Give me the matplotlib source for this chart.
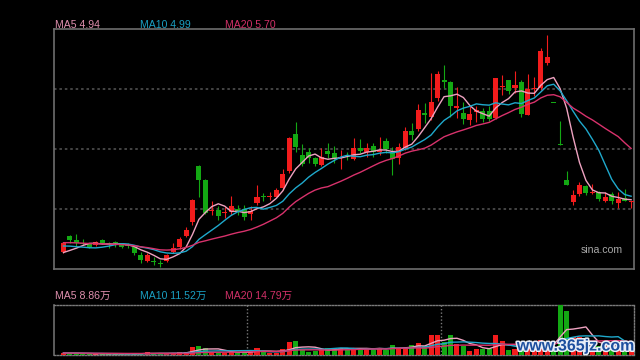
import numpy as np
import matplotlib
matplotlib.use("Agg")
import matplotlib.pyplot as plt
import matplotlib.patheffects as pe

# ---------------- data ----------------
opens = [4.20, 4.42, 4.37, 4.33, 4.31, 4.30, 4.37, 4.32, 4.34, 4.32,
         4.30, 4.27, 4.15, 4.07, 4.06, 4.04, 4.07, 4.20, 4.27, 4.43,
         4.63, 5.43, 5.23, 4.78, 4.80, 4.75, 4.77, 4.81, 4.81, 4.74,
         4.90, 5.00, 4.98, 4.99, 5.11, 5.35, 5.88, 5.58, 5.62, 5.54,
         5.44, 5.64, 5.61, 5.54, 5.58, 5.53, 5.68, 5.63, 5.71, 5.62,
         5.78, 5.63, 5.54, 5.69, 5.92, 5.95, 6.19, 6.13, 6.40, 6.65,
         6.63, 6.26, 6.18, 6.08, 6.20, 6.21, 6.21, 6.11, 6.55, 6.65,
         6.54, 6.63, 6.16, 6.52, 6.54, 6.90, 6.32, 5.74, 5.23, 4.91,
         5.03, 5.14, 5.04, 5.05, 4.93, 5.03, 4.90, 4.97, 4.91]
highs = [4.34, 4.44, 4.45, 4.38, 4.32, 4.36, 4.38, 4.34, 4.35, 4.33,
         4.33, 4.29, 4.20, 4.18, 4.13, 4.08, 4.17, 4.32, 4.41, 4.56,
         4.96, 5.44, 5.24, 4.92, 4.85, 4.84, 5.00, 4.87, 4.87, 4.85,
         5.15, 5.04, 5.06, 5.11, 5.38, 5.84, 6.06, 5.74, 5.68, 5.56,
         5.68, 5.75, 5.71, 5.65, 5.63, 5.82, 5.81, 5.76, 5.75, 5.84,
         5.82, 5.70, 5.75, 5.99, 6.04, 6.31, 6.33, 6.76, 6.78, 6.87,
         6.64, 6.55, 6.34, 6.28, 6.28, 6.25, 6.28, 6.69, 6.72, 6.66,
         6.78, 6.66, 6.74, 6.70, 7.11, 7.30, 6.32, 6.07, 5.35, 5.09,
         5.20, 5.16, 5.17, 5.07, 5.06, 5.06, 5.05, 5.10, 4.92]
lows = [4.18, 4.33, 4.28, 4.30, 4.26, 4.28, 4.31, 4.25, 4.27, 4.25,
        4.26, 4.16, 4.04, 4.06, 4.01, 3.99, 4.06, 4.18, 4.24, 4.41,
        4.58, 4.98, 4.74, 4.73, 4.65, 4.68, 4.73, 4.73, 4.66, 4.66,
        4.87, 4.93, 4.94, 4.98, 5.08, 5.33, 5.62, 5.42, 5.47, 5.43,
        5.42, 5.54, 5.47, 5.38, 5.51, 5.51, 5.61, 5.56, 5.56, 5.59,
        5.61, 5.30, 5.46, 5.65, 5.80, 5.92, 6.04, 6.08, 6.35, 6.54,
        6.13, 6.11, 6.03, 6.01, 6.06, 6.06, 6.07, 6.10, 6.44, 6.45,
        6.47, 6.12, 6.15, 6.43, 6.51, 6.87, 6.32, 5.72, 5.16, 4.87,
        5.00, 5.01, 5.03, 4.92, 4.91, 4.88, 4.83, 4.92, 4.83]
closes = [4.33, 4.37, 4.32, 4.31, 4.27, 4.34, 4.32, 4.31, 4.32, 4.27,
          4.28, 4.19, 4.08, 4.15, 4.05, 4.03, 4.15, 4.26, 4.38, 4.51,
          4.94, 5.23, 4.75, 4.80, 4.71, 4.77, 4.85, 4.77, 4.70, 4.78,
          4.98, 4.98, 5.00, 5.08, 5.31, 5.83, 5.70, 5.46, 5.54, 5.45,
          5.56, 5.60, 5.53, 5.56, 5.56, 5.68, 5.64, 5.68, 5.62, 5.66,
          5.67, 5.53, 5.70, 5.92, 5.87, 6.22, 6.16, 6.34, 6.74, 6.62,
          6.28, 6.28, 6.10, 6.17, 6.22, 6.10, 6.10, 6.68, 6.56, 6.50,
          6.58, 6.17, 6.53, 6.54, 7.07, 6.99, 6.32, 5.73, 5.16, 5.01,
          5.16, 5.04, 5.05, 4.96, 4.99, 4.93, 4.95, 4.93, 4.92]
# volume, in 万 shares
volumes = [2.5, 1.7, 1.7, 1.1, 1.3, 1.1, 1.7, 1.1, 1.1, 1.3,
           1.1, 1.7, 1.7, 3.0, 1.3, 1.7, 1.7, 2.2, 2.8, 3.3,
           9.1, 10.2, 7.4, 3.3, 3.6, 1.9, 2.8, 2.8, 3.6, 4.1,
           7.7, 3.6, 2.5, 2.2, 6.3, 14.0, 15.4, 5.5, 3.6, 4.4,
           5.5, 7.7, 7.7, 7.7, 5.5, 7.7, 7.7, 7.7, 5.5, 7.7,
           5.5, 11.0, 7.7, 7.7, 11.0, 13.2, 10.2, 22.0, 22.0, 14.0,
           22.0, 12.1, 10.2, 4.7, 6.6, 6.6, 6.6, 22.0, 15.4, 5.0,
           7.0, 9.0, 12.0, 8.0, 17.0, 14.0, 5.2, 55.0, 48.4, 20.0,
           19.5, 11.5, 10.5, 9.4, 9.5, 8.8, 9.0, 8.2, 8.8]
# closes / volumes of the 19 sessions before the visible window (for the MAs)
prior_closes = [4.36, 4.38, 4.40, 4.37, 4.39, 4.36, 4.38, 4.37, 4.38, 4.38,
                4.39, 4.40, 4.37, 4.36, 4.36, 4.22, 4.16, 4.12, 4.12]
prior_volumes = [2.1, 2.3, 1.9, 2.2, 2.0, 2.4, 2.1, 1.8, 2.0, 2.2,
                 1.9, 2.1, 2.3, 2.0, 1.8, 2.2, 2.4, 2.0, 2.1]
ma_periods = [5, 10, 20]
price_ma_labels = ["MA5 4.94", "MA10 4.99", "MA20 5.70"]
volume_ma_labels = ["MA5 8.86万", "MA10 11.52万", "MA20 14.79万"]
month_breaks = [28.5, 58.5]

# ---------------- style ----------------
BG = "#000000"
UP = "#f21c1c"
DOWN = "#13a813"
MA_COLORS = ["#eea2c0", "#1fa9cc", "#d8326c"]
LABEL_COLORS = ["#df8fae", "#1a9fc2", "#d23068"]
BORDER = "#6e6e6e"
GRID = "#4a4a4a"
FONT = ["Liberation Sans", "Noto Sans CJK SC", "DejaVu Sans"]

W, H = 640, 360
fig = plt.figure(figsize=(6.4, 3.6), dpi=100, facecolor=BG)

def fx(px):
    return px / W

def fy(py):
    return 1 - py / H

ax = fig.add_axes([fx(54), fy(269), fx(580), 240 / H], facecolor=BG)
axv = fig.add_axes([fx(54), fy(355), fx(580), 50 / H], facecolor=BG)

n = len(closes)
x = np.arange(n)
o = np.array(opens); c = np.array(closes); hi = np.array(highs); lo = np.array(lows)
v = np.array(volumes)

prev = np.concatenate([[prior_closes[-1]], c[:-1]])
up = (c > o) | ((c == o) & (c >= prev))
cols = np.where(up, UP, DOWN)

def moving_avg(prior, vals, p):
    full = np.concatenate([np.array(prior), np.array(vals)])
    out = np.convolve(full, np.ones(p) / p, mode="valid")
    return out[-len(vals):]

# ---- price panel ----
ylo, yhi = 3.9543, 7.3829
ax.set_xlim(-1.47, 88.45)
ax.set_ylim(ylo, yhi)
for f in (0.25, 0.5, 0.75):
    ax.axhline(ylo + (yhi - ylo) * f, color=GRID, lw=1.3, ls=(0, (1.4, 1.6)), zorder=0)

bw = 0.78
ax.vlines(x, lo, hi, colors=cols, lw=0.8, zorder=2)
body_bottom = np.minimum(o, c)
body_h = np.maximum(np.abs(c - o), 0.013)
ax.bar(x, body_h, bottom=body_bottom, width=bw, color=cols, linewidth=0, zorder=3)

for p, col in zip(ma_periods, MA_COLORS):
    ax.plot(x, moving_avg(prior_closes, closes, p), color=col, lw=1.0, zorder=4)

for s in ax.spines.values():
    s.set_color(BORDER)
    s.set_linewidth(1.2)
ax.set_xticks([]); ax.set_yticks([])

ax.text(fx(623), fy(253), "sina.com", transform=fig.transFigure, ha="right",
        va="baseline", color="#a8a8a8", fontsize=7.6, family=FONT)

# ---- volume panel ----
axv.set_xlim(-1.47, 88.45)
axv.set_ylim(0, max(volumes))
axv.bar(x, v, width=bw, color=cols, linewidth=0, zorder=3)
for p, col in zip(ma_periods, MA_COLORS):
    axv.plot(x, moving_avg(prior_volumes, volumes, p), color=col, lw=1.0, zorder=4)
for mb in month_breaks:
    axv.axvline(mb, color="#7a7a7a", lw=1.0, ls=(0, (1, 1.5)), zorder=1)
for side in ("top", "right", "bottom"):
    axv.spines[side].set_linestyle((0, (1, 1.2)))
    axv.spines[side].set_color("#7a7a7a")
    axv.spines[side].set_linewidth(1.0)
axv.spines["left"].set_color(BORDER)
axv.spines["left"].set_linewidth(1.2)
axv.set_xticks([]); axv.set_yticks([])

# ---- legends ----
label_x = [55, 140, 225]
for lx, t, col in zip(label_x, price_ma_labels, LABEL_COLORS):
    fig.text(fx(lx), fy(28), t, color=col, fontsize=7.6, family=FONT, va="baseline")
for lx, t, col in zip(label_x, volume_ma_labels, LABEL_COLORS):
    fig.text(fx(lx), fy(299), t, color=col, fontsize=7.6, family=FONT, va="baseline")

# ---- watermark ----
fig.text(fx(576), fy(346), "www.365jz.com", color="#1d4f9e", fontsize=11.5,
         family=FONT, weight="bold", ha="center", va="center", zorder=10,
         path_effects=[pe.withStroke(linewidth=2.2, foreground="#e8eef8")])

fig.savefig("out.png", dpi=100, facecolor=BG)
